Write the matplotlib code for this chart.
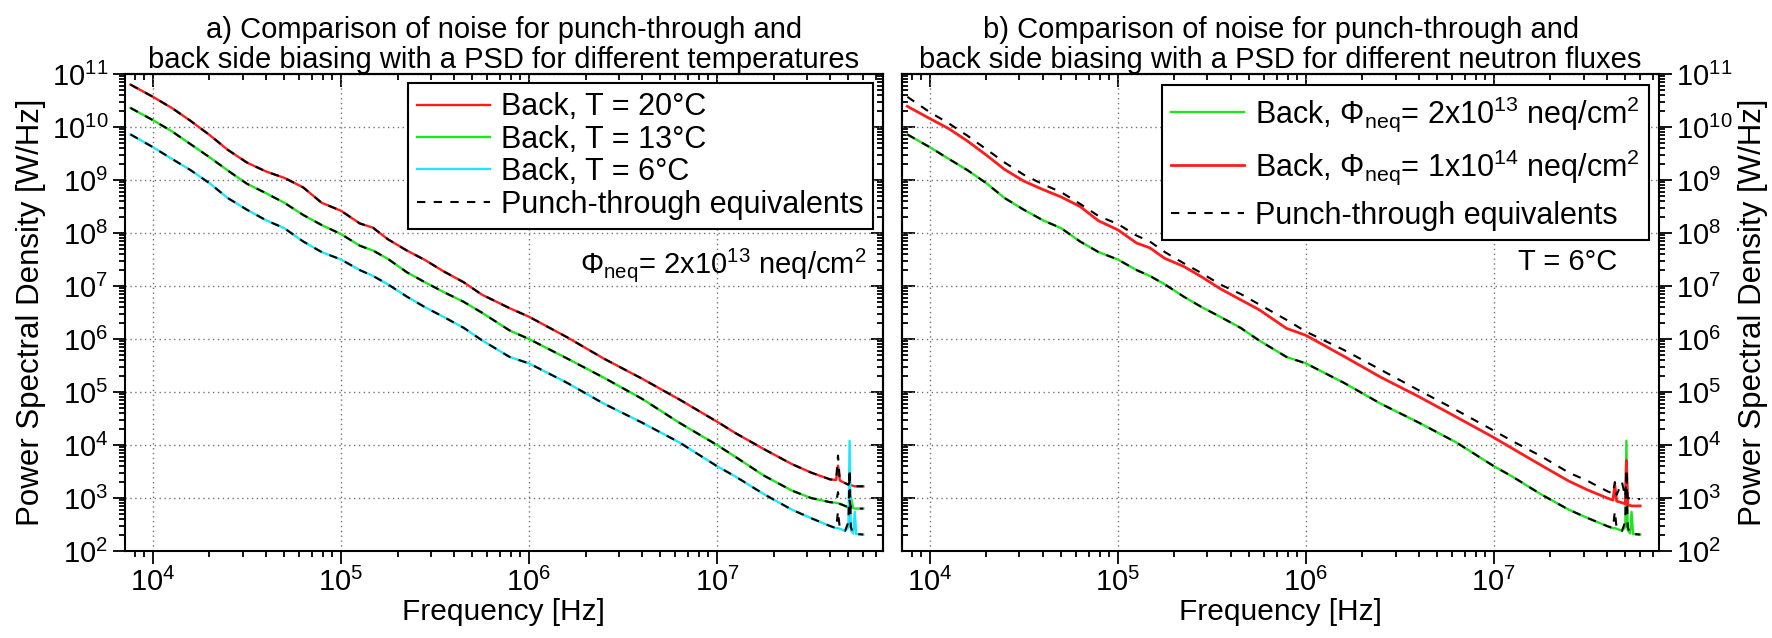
import numpy as np
import matplotlib
matplotlib.use("Agg")
import matplotlib.pyplot as plt
from matplotlib.ticker import LogLocator, NullFormatter

plt.rcParams['font.family'] = ['Liberation Sans', 'DejaVu Sans']
plt.rcParams['mathtext.fontset'] = 'custom'
plt.rcParams['mathtext.rm'] = 'Liberation Sans'
plt.rcParams['mathtext.it'] = 'Liberation Sans:italic'
plt.rcParams['mathtext.bf'] = 'Liberation Sans:bold'

# frequency grid [Hz]
freq = np.array([7.6e3, 1.0e4, 1.26e4, 1.58e4, 2.0e4, 2.5e4, 3.16e4, 4.0e4, 5.0e4, 6.3e4,
                 7.9e4, 1.0e5, 1.26e5, 1.48e5, 1.78e5, 2.24e5, 2.8e5, 3.5e5, 4.5e5, 5.6e5,
                 7.9e5, 1.0e6, 1.6e6, 2.5e6, 4.0e6, 6.3e6, 1.0e7, 1.26e7, 1.78e7, 2.5e7,
                 3.16e7, 4.0e7, 4.3e7, 4.4e7, 4.5e7, 4.8e7, 5.0e7, 5.07e7, 5.15e7, 5.3e7,
                 5.4e7, 5.5e7, 6.0e7])

# log10 of PSD [W/Hz]
# a) Phi = 2e13, different temperatures
log_back_20c = [10.80, 10.57, 10.36, 10.12, 9.85, 9.57, 9.33, 9.16, 9.04, 8.86,
                8.57, 8.42, 8.18, 8.10, 7.88, 7.67, 7.49, 7.28, 7.07, 6.84,
                6.58, 6.42, 6.03, 5.63, 5.25, 4.86, 4.44, 4.22, 3.92, 3.64,
                3.48, 3.35, 3.34, 3.61, 3.33, 3.28, 3.25, 3.26, 3.24, 3.23,
                3.22, 3.22, 3.22]
log_pt_20c = [10.80, 10.57, 10.36, 10.12, 9.85, 9.57, 9.33, 9.16, 9.04, 8.86,
              8.57, 8.42, 8.18, 8.10, 7.88, 7.67, 7.49, 7.28, 7.07, 6.84,
              6.58, 6.42, 6.03, 5.63, 5.25, 4.86, 4.44, 4.22, 3.92, 3.64,
              3.48, 3.35, 3.34, 3.80, 3.33, 3.28, 3.25, 3.30, 3.24, 3.23,
              3.22, 3.22, 3.22]
log_back_13c = [10.36, 10.13, 9.92, 9.68, 9.43, 9.18, 8.93, 8.75, 8.57, 8.34,
                8.15, 7.98, 7.76, 7.67, 7.51, 7.26, 7.07, 6.89, 6.70, 6.50,
                6.16, 6.00, 5.63, 5.27, 4.87, 4.42, 4.00, 3.77, 3.42, 3.14,
                3.00, 2.92, 2.91, 2.90, 2.89, 2.85, 2.82, 2.84, 3.02, 2.81,
                2.80, 2.80, 2.80]
log_pt_13c = [10.36, 10.13, 9.92, 9.68, 9.43, 9.18, 8.93, 8.75, 8.57, 8.34,
              8.15, 7.98, 7.76, 7.67, 7.51, 7.26, 7.07, 6.89, 6.70, 6.50,
              6.16, 6.00, 5.63, 5.27, 4.87, 4.42, 4.00, 3.77, 3.42, 3.14,
              3.00, 2.92, 2.91, 3.11, 2.89, 2.85, 2.82, 2.95, 2.82, 2.81,
              2.80, 2.80, 2.80]
# T = 6 C, Phi = 2e13 (shown in both panels)
log_back_6c = [9.86, 9.62, 9.40, 9.19, 8.94, 8.66, 8.44, 8.24, 8.09, 7.84,
               7.64, 7.50, 7.30, 7.19, 7.03, 6.80, 6.60, 6.42, 6.21, 5.98,
               5.66, 5.54, 5.17, 4.78, 4.42, 4.05, 3.60, 3.40, 3.07, 2.78,
               2.62, 2.47, 2.43, 2.43, 2.42, 2.38, 2.45, 4.08, 2.40, 2.33,
               2.74, 2.32, 2.31]
log_pt_6c = [9.86, 9.62, 9.40, 9.19, 8.94, 8.66, 8.44, 8.24, 8.09, 7.84,
             7.64, 7.50, 7.30, 7.19, 7.03, 6.80, 6.60, 6.42, 6.21, 5.98,
             5.66, 5.54, 5.17, 4.78, 4.42, 4.05, 3.60, 3.40, 3.07, 2.78,
             2.62, 2.47, 2.43, 2.75, 2.42, 2.38, 2.55, 3.55, 2.45, 2.33,
             2.33, 2.32, 2.31]
# b) T = 6 C, Phi = 1e14
log_back_1e14 = [10.39, 10.16, 9.97, 9.74, 9.47, 9.20, 8.98, 8.82, 8.68, 8.50,
                 8.23, 8.06, 7.81, 7.72, 7.52, 7.37, 7.17, 6.95, 6.74, 6.56,
                 6.20, 6.07, 5.67, 5.28, 4.91, 4.53, 4.14, 3.93, 3.62, 3.32,
                 3.15, 3.00, 2.96, 3.24, 2.94, 2.91, 2.89, 3.71, 2.87, 2.86,
                 2.85, 2.85, 2.85]
log_pt_1e14 = [10.57, 10.28, 10.07, 9.84, 9.58, 9.33, 9.10, 8.92, 8.77, 8.55,
               8.32, 8.17, 7.95, 7.84, 7.64, 7.43, 7.24, 7.03, 6.85, 6.66,
               6.36, 6.14, 5.79, 5.42, 5.03, 4.66, 4.27, 4.07, 3.79, 3.48,
               3.32, 3.13, 3.08, 3.30, 3.06, 3.30, 3.02, 3.40, 3.00, 2.99,
               2.98, 2.98, 2.98]

RED = '#ff1c1c'
GREEN = '#1ee61e'
CYAN = '#1ee6ff'
DASH = (0, (4, 4))


def psd(v):
    return 10.0 ** np.array(v)


def style_axes(ax, right_labels=False):
    ax.set_xscale('log')
    ax.set_yscale('log')
    ax.set_xlim(7.1e3, 7.6e7)
    ax.set_ylim(1e2, 1e11)
    for a in (ax.xaxis, ax.yaxis):
        a.set_major_locator(LogLocator(base=10, numticks=30))
        a.set_minor_locator(LogLocator(base=10, subs=np.arange(2, 10), numticks=30))
        a.set_minor_formatter(NullFormatter())
    ax.grid(True, which='major', color='0.45', linestyle=(0, (1, 2.5)), linewidth=1.0)
    ax.tick_params(which='both', direction='out', width=1.3, labelsize=21, pad=3)
    ax.tick_params(which='major', length=9)
    ax.tick_params(which='minor', length=4.5)
    for s in ax.spines.values():
        s.set_linewidth(1.5)

    # mirrored ticks pointing inwards
    sx = ax.secondary_xaxis('top')
    sy = ax.secondary_yaxis('left' if right_labels else 'right')
    for sec, a in ((sx, sx.xaxis), (sy, sy.yaxis)):
        a.set_major_locator(LogLocator(base=10, numticks=30))
        a.set_minor_locator(LogLocator(base=10, subs=np.arange(2, 10), numticks=30))
        a.set_major_formatter(NullFormatter())
        a.set_minor_formatter(NullFormatter())
        sec.tick_params(which='both', direction='in', width=1.3)
        sec.tick_params(which='major', length=9)
        sec.tick_params(which='minor', length=4.5)
        for s in sec.spines.values():
            s.set_linewidth(1.5)

    if right_labels:
        ax.yaxis.tick_right()
        ax.yaxis.set_label_position('right')
    ax.set_xlabel('Frequency [Hz]', fontsize=21.5, labelpad=1)
    ax.set_ylabel('Power Spectral Density [W/Hz]', fontsize=22.5, labelpad=4)


fig = plt.figure(figsize=(17.72, 6.38), dpi=100)
ax1 = fig.add_axes([0.0705, 0.1364, 0.4276, 0.7476])
ax2 = fig.add_axes([0.5089, 0.1364, 0.4276, 0.7476])

# a) temperatures
ax1.plot(freq, psd(log_back_20c), color=RED, lw=1.7, label='Back, T = 20°C')
ax1.plot(freq, psd(log_back_13c), color=GREEN, lw=1.7, label='Back, T = 13°C')
ax1.plot(freq, psd(log_back_6c), color=CYAN, lw=1.7, label='Back, T = 6°C')
ax1.plot(freq, psd(log_pt_20c), color='black', lw=1.5, linestyle=DASH, label='Punch-through equivalents')
ax1.plot(freq, psd(log_pt_13c), color='black', lw=1.5, linestyle=DASH)
ax1.plot(freq, psd(log_pt_6c), color='black', lw=1.5, linestyle=DASH)
style_axes(ax1)
ax1.set_title('a) Comparison of noise for punch-through and\n'
              'back side biasing with a PSD for different temperatures',
              fontsize=21, linespacing=1.1, pad=3)
leg1 = ax1.legend(loc='upper right', bbox_to_anchor=(0.987, 0.981), fontsize=22,
                  fancybox=False, edgecolor='black', framealpha=1, handlelength=2.4,
                  handletextpad=0.35, labelspacing=0.08, borderpad=0.3, borderaxespad=0)
leg1.get_frame().set_linewidth(1.5)
ax1.text(0.979, 0.60, 'Φ$_{\\rm neq}$= 2x10$^{13}$ neq/cm$^2$', transform=ax1.transAxes,
         ha='right', va='center', fontsize=21)

# b) neutron fluxes
ax2.plot(freq, psd(log_back_6c), color=GREEN, lw=1.7,
         label='Back, Φ$_{\\rm neq}$= 2x10$^{13}$ neq/cm$^2$')
ax2.plot(freq, psd(log_back_1e14), color=RED, lw=2.0,
         label='Back, Φ$_{\\rm neq}$= 1x10$^{14}$ neq/cm$^2$')
ax2.plot(freq, psd(log_pt_1e14), color='black', lw=1.5, linestyle=DASH, label='Punch-through equivalents')
ax2.plot(freq, psd(log_pt_6c), color='black', lw=1.5, linestyle=DASH)
style_axes(ax2, right_labels=True)
ax2.set_title('b) Comparison of noise for punch-through and\n'
              'back side biasing with a PSD for different neutron fluxes',
              fontsize=21, linespacing=1.1, pad=3)
leg2 = ax2.legend(loc='upper right', bbox_to_anchor=(0.986, 0.977), fontsize=22,
                  fancybox=False, edgecolor='black', framealpha=1, handlelength=2.4,
                  handletextpad=0.35, labelspacing=0.45, borderpad=0.3, borderaxespad=0)
leg2.get_frame().set_linewidth(1.5)
ax2.text(0.944, 0.605, 'T = 6°C', transform=ax2.transAxes, ha='right', va='center', fontsize=21)

fig.savefig('out.png', dpi=100)
